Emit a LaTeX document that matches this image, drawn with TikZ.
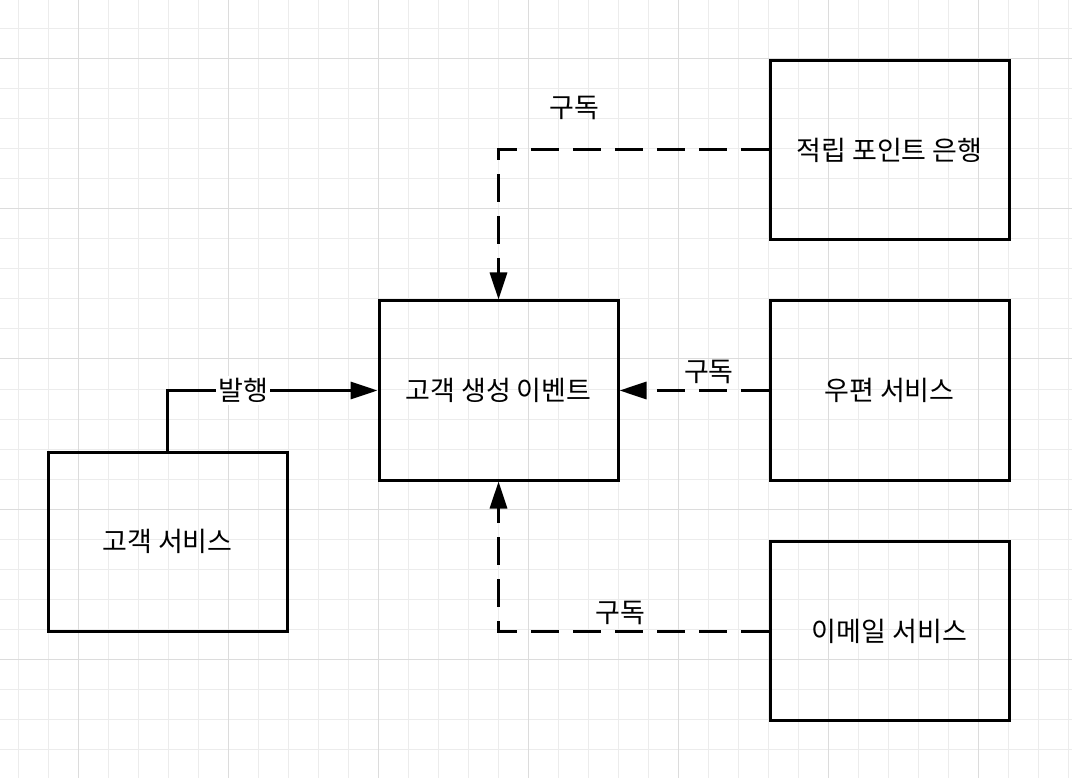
\documentclass[tikz,border=0pt]{standalone}
\usepackage{fontspec}
\usepackage{tikz}
\usetikzlibrary{arrows.meta}
\setmainfont{Noto Sans CJK KR}
\definecolor{grid-minor}{RGB}{236, 236, 236}
\definecolor{grid-major}{RGB}{220, 220, 220}

\begin{document}
\begin{tikzpicture}[
    x=1pt, y=-1pt,
    box/.style={rectangle,draw,line width=3pt,minimum width=239pt,minimum height=179pt,font=\fontsize{27}{32}\selectfont},
    lbl/.style={font=\fontsize{27}{32}\selectfont,inner sep=2pt},
    pub/.style={line width=3pt,-{Triangle[length=27pt,width=17pt]}},
    sub/.style={pub,dash pattern=on 28pt off 14pt}
]
\useasboundingbox (0,0) rectangle (1072,778);
\fill[white] (0,0) rectangle (1072,778);
% grid
\foreach \gx in {18,48,...,1068} \draw[grid-minor,line width=1pt] (\gx,0) -- (\gx,778);
\foreach \gy in {29,59,...,779} \draw[grid-minor,line width=1pt] (0,\gy) -- (1072,\gy);
\foreach \gx in {78,228,...,978} \draw[grid-major,line width=1pt] (\gx,0) -- (\gx,778);
\foreach \gy in {59,209,...,659} \draw[grid-major,line width=1pt] (0,\gy) -- (1072,\gy);

\node[box] (svc) at (167.5,541.5) {고객 서비스};
\node[box] (evt) at (498.5,390.5) {고객 생성 이벤트};
\node[box] (bank) at (889.5,150) {적립 포인트 은행};
\node[box] (post) at (889.5,390.5) {우편 서비스};
\node[box] (mail) at (889.5,631) {이메일 서비스};

\draw[pub] (svc.north) |- node[lbl,pos=.68,fill=white] {발행} (evt.west);
\draw[sub] (bank.west) -| node[lbl,pos=.36,yshift=42pt] {구독} (evt.north);
\draw[sub] (post.west) -- node[lbl,pos=.4,yshift=19pt] {구독} (evt.east);
\draw[sub] (mail.west) -| node[lbl,pos=.275,yshift=18pt] {구독} (evt.south);
\end{tikzpicture}
\end{document}
